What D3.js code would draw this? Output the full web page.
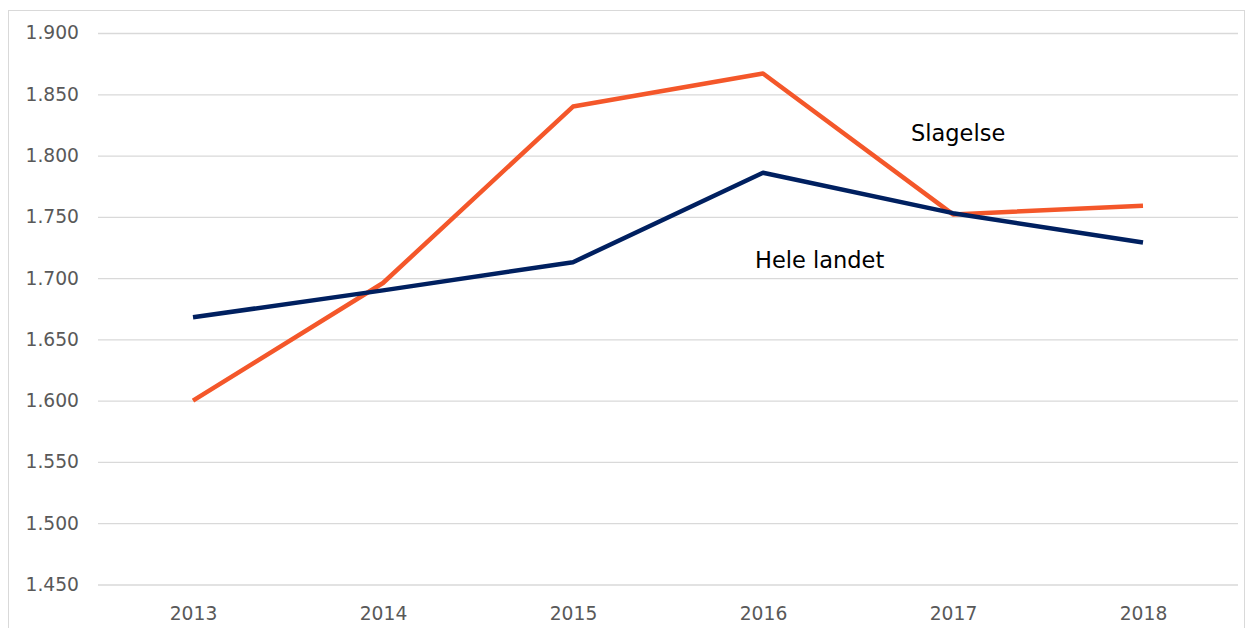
<!DOCTYPE html>
<html>
<head>
<meta charset="utf-8">
<script src="https://cdn.jsdelivr.net/npm/d3@7"></script>
<style>
  body { margin: 0; background: #fff; }
  svg { display: block; font-family: "DejaVu Sans", Verdana, sans-serif; }
  svg text { font-family: "DejaVu Sans", Verdana, sans-serif; }
</style>
</head>
<body>
<svg id="chart"></svg>
<script>
const years = ["2013", "2014", "2015", "2016", "2017", "2018"];
const slagelse = [1.600, 1.696, 1.840, 1.867, 1.752, 1.759];
const heleLandet = [1.668, 1.690, 1.713, 1.786, 1.753, 1.729];
const yTicks = [1.45, 1.5, 1.55, 1.6, 1.65, 1.7, 1.75, 1.8, 1.85, 1.9];

const W = 1247, H = 628;
const margin = { top: 33, right: 9, bottom: 43.5, left: 98 };

const svg = d3.select("#chart").attr("width", W).attr("height", H);

// chart frame
svg.append("rect")
  .attr("x", 8.5).attr("y", 10.5)
  .attr("width", 1236).attr("height", 640)
  .attr("fill", "none").attr("stroke", "#d9d9d9");

const x = d3.scalePoint().domain(years)
  .range([margin.left, W - margin.right]).padding(0.5);
const y = d3.scaleLinear().domain([1.45, 1.9])
  .range([H - margin.bottom, margin.top]);

const fmt = d3.format(".3f");

// gridlines + y labels
const yAxis = svg.append("g")
  .attr("transform", `translate(${margin.left},0)`)
  .call(d3.axisLeft(y).tickValues(yTicks).tickFormat(fmt)
    .tickSize(-(W - margin.left - margin.right)).tickPadding(19));
yAxis.select(".domain").remove();
yAxis.selectAll("line").attr("stroke", "#d9d9d9").attr("stroke-width", 1.3);
yAxis.selectAll("text").attr("fill", "#595959")
  .style("font-size", "18.7px");

// x labels
const xAxis = svg.append("g")
  .attr("transform", `translate(0,${H - margin.bottom})`)
  .call(d3.axisBottom(x).tickSize(0).tickPadding(22));
xAxis.select(".domain").remove();
xAxis.selectAll("text").attr("fill", "#595959")
  .style("font-size", "18.7px");

const line = d3.line().x((d, i) => x(years[i])).y(d => y(d));

svg.append("path").datum(slagelse)
  .attr("fill", "none").attr("stroke", "#f4572a")
  .attr("stroke-width", 4.5).attr("stroke-linejoin", "round")
  .attr("d", line);

svg.append("path").datum(heleLandet)
  .attr("fill", "none").attr("stroke", "#002060")
  .attr("stroke-width", 4.5).attr("stroke-linejoin", "round")
  .attr("d", line);

// series labels
svg.append("text").attr("x", 911).attr("y", 141)
  .style("font-size", "22.5px").attr("fill", "#000")
  .text("Slagelse");
svg.append("text").attr("x", 755).attr("y", 268)
  .style("font-size", "22.5px").attr("fill", "#000")
  .text("Hele landet");
</script>
</body>
</html>
